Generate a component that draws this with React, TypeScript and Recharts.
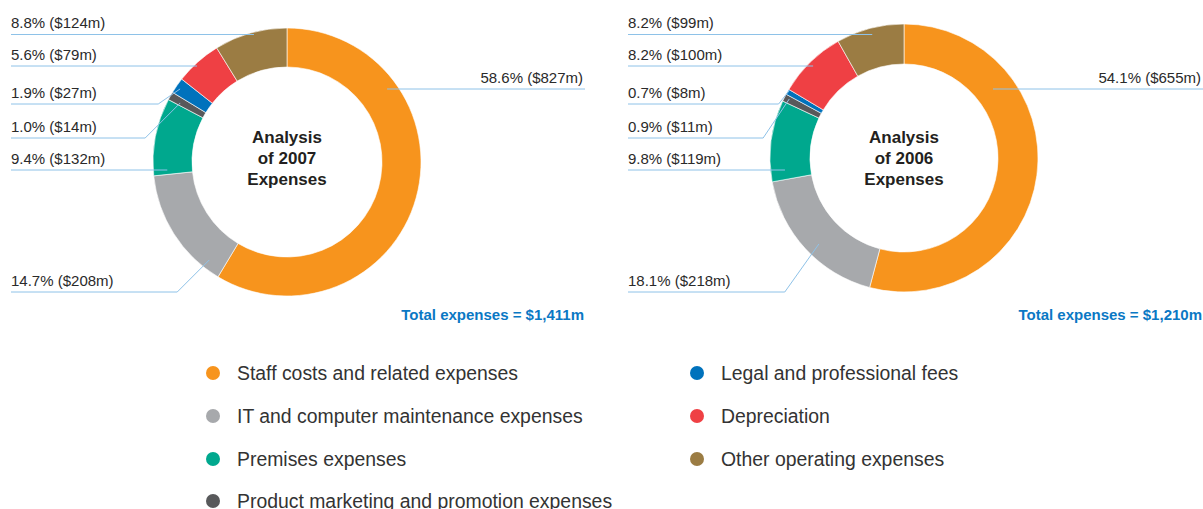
import React from 'react';
import { PieChart, Pie, Cell, Legend } from 'recharts';

// ---------- data ----------
const categories = [
  'Staff costs and related expenses',
  'IT and computer maintenance expenses',
  'Premises expenses',
  'Product marketing and promotion expenses',
  'Legal and professional fees',
  'Depreciation',
  'Other operating expenses',
];
const expenses2007 = [827, 208, 132, 14, 27, 79, 124];
const expenses2006 = [655, 218, 119, 11, 8, 100, 99];
const pctLabels2007 = ['58.6%', '14.7%', '9.4%', '1.0%', '1.9%', '5.6%', '8.8%'];
const pctLabels2006 = ['54.1%', '18.1%', '9.8%', '0.9%', '0.7%', '8.2%', '8.2%'];
const titles2007 = ['Analysis', 'of 2007', 'Expenses'];
const titles2006 = ['Analysis', 'of 2006', 'Expenses'];

// ---------- styles / layout ----------
const colors = ['#F7941D', '#A7A9AC', '#00A88E', '#58595B', '#0072BC', '#EF4044', '#9B7C43'];
const FONT = '"Liberation Sans", Arial, Helvetica, sans-serif';
const LINE = '#8ec2e8';
const TEXT = '#2a2a2a';
const BLUE = '#0a78c4';

// y of the leader row line for each slice (same in both charts)
const rowLineY = [89, 292, 170, 138, 104, 66, 34.5];

type Anchor = { mode: 'h' | 'd'; f: number; r: number; k?: number };
const anchors2007: Anchor[] = [
  { mode: 'h', f: 0.255, r: 124 },
  { mode: 'd', f: 0.14, r: 125, k: 1 },
  { mode: 'h', f: 0.06, r: 120 },
  { mode: 'd', f: 0.34, r: 122, k: 1 },
  { mode: 'd', f: 0.44, r: 129.5, k: 1.45 },
  { mode: 'h', f: 0.43, r: 131.6 },
  { mode: 'h', f: 0.54, r: 131.5 },
];
const anchors2006: Anchor[] = [
  { mode: 'h', f: 0.268, r: 112.6 },
  { mode: 'd', f: 0.46, r: 121, k: 0.71 },
  { mode: 'h', f: 0.13, r: 119.6 },
  { mode: 'd', f: 0.64, r: 129, k: 0.67 },
  { mode: 'd', f: 0.9, r: 133, k: 0.8 },
  { mode: 'h', f: 0.49, r: 129.4 },
  { mode: 'h', f: 0.51, r: 127.4 },
];

const toRows = (vals: number[]) => categories.map((name, i) => ({ name, value: vals[i] }));
const data2007 = toRows(expenses2007);
const data2006 = toRows(expenses2006);

type Cfg = {
  pcts: string[];
  anchors: Anchor[];
  leftX: number;
  rightX: number;
  titles: string[];
  titleY: number[];
  total: number;
};

const makeLabel = (cfg: Cfg) => (props: any) => {
  const { cx, cy, startAngle, endAngle, index, value } = props;
  const a = cfg.anchors[index];
  const ang = ((startAngle + a.f * (endAngle - startAngle)) * Math.PI) / 180;
  const px = cx + a.r * Math.cos(ang);
  let py = cy - a.r * Math.sin(ang);
  const rowY = rowLineY[index];
  const isRight = index === 0;
  let points = '';
  if (a.mode === 'h') {
    py = rowY;
    points = isRight ? `${px},${rowY} ${cfg.rightX},${rowY}` : `${cfg.leftX},${rowY} ${px},${rowY}`;
  } else {
    const elbowX = px - Math.abs(py - rowY) * (a.k ?? 1);
    points = `${cfg.leftX},${rowY} ${elbowX},${rowY} ${px},${py}`;
  }
  const label = `${cfg.pcts[index]} ($${value}m)`;
  return (
    <g key={`lbl-${index}`}>
      <polyline points={points} fill="none" stroke={LINE} strokeWidth={1} />
      <text
        x={isRight ? cfg.rightX - 2 : cfg.leftX}
        y={rowY - 6.5}
        textAnchor={isRight ? 'end' : 'start'}
        fontFamily={FONT}
        fontSize={15}
        fill={TEXT}
      >
        {label}
      </text>
      {index === 0 && (
        <g>
          {cfg.titles.map((t, i) => (
            <text
              key={t}
              x={cx}
              y={cfg.titleY[i]}
              textAnchor="middle"
              fontFamily={FONT}
              fontSize={17}
              fontWeight="bold"
              fill="#231f20"
            >
              {t}
            </text>
          ))}
          <text
            x={cfg.rightX - 1}
            y={320}
            textAnchor="end"
            fontFamily={FONT}
            fontSize={15}
            fontWeight="bold"
            fill={BLUE}
          >
            {`Total expenses = $${cfg.total.toLocaleString('en-US')}m`}
          </text>
        </g>
      )}
    </g>
  );
};

const sum = (v: number[]) => v.reduce((s, x) => s + x, 0);

const label2007 = makeLabel({
  pcts: pctLabels2007,
  anchors: anchors2007,
  leftX: 11,
  rightX: 585,
  titles: titles2007,
  titleY: [143, 164, 185],
  total: sum(expenses2007),
});
const label2006 = makeLabel({
  pcts: pctLabels2006,
  anchors: anchors2006,
  leftX: 628,
  rightX: 1203,
  titles: titles2006,
  titleY: [143, 164, 185],
  total: sum(expenses2006),
});

const legendCols = [
  [0, 1, 2, 3],
  [4, 5, 6],
];
const legendColX = [213, 697];
const legendRowY = [373, 416, 459, 501];
const LEGEND_TOP = 350;

const renderLegend = () => (
  <svg width={1203} height={159} style={{ display: 'block' }}>
    {legendCols.map((col, ci) =>
      col.map((idx, ri) => (
        <g key={`${ci}-${ri}`}>
          <circle cx={legendColX[ci]} cy={legendRowY[ri] - LEGEND_TOP} r={7} fill={colors[idx]} />
          <text
            x={legendColX[ci] + 24}
            y={legendRowY[ri] - LEGEND_TOP + 7}
            fontFamily={FONT}
            fontSize={19.4}
            fill="#333"
          >
            {categories[idx]}
          </text>
        </g>
      ))
    )}
  </svg>
);

export default function App() {
  return (
    <div style={{ position: 'absolute', left: 0, top: 0, width: 1203, height: 509, background: '#fff' }}>
      <PieChart width={1203} height={509} margin={{ top: 0, right: 0, bottom: 0, left: 0 }}>
        <Pie
          data={data2007}
          dataKey="value"
          nameKey="name"
          cx={287}
          cy={162}
          innerRadius={95}
          outerRadius={134}
          startAngle={90}
          endAngle={-270}
          stroke="#ffffff"
          strokeWidth={0.6}
          label={label2007}
          labelLine={false}
          isAnimationActive={false}
        >
          {data2007.map((_, i) => (
            <Cell key={i} fill={colors[i]} />
          ))}
        </Pie>
        <Pie
          data={data2006}
          dataKey="value"
          nameKey="name"
          cx={904}
          cy={158}
          innerRadius={94}
          outerRadius={134}
          startAngle={90}
          endAngle={-270}
          stroke="#ffffff"
          strokeWidth={0.6}
          label={label2006}
          labelLine={false}
          isAnimationActive={false}
        >
          {data2006.map((_, i) => (
            <Cell key={i} fill={colors[i]} />
          ))}
        </Pie>
        <Legend
          content={renderLegend}
          wrapperStyle={{ position: 'absolute', left: 0, top: LEGEND_TOP, width: 1203, height: 159, bottom: 'auto' }}
        />
      </PieChart>
    </div>
  );
}
